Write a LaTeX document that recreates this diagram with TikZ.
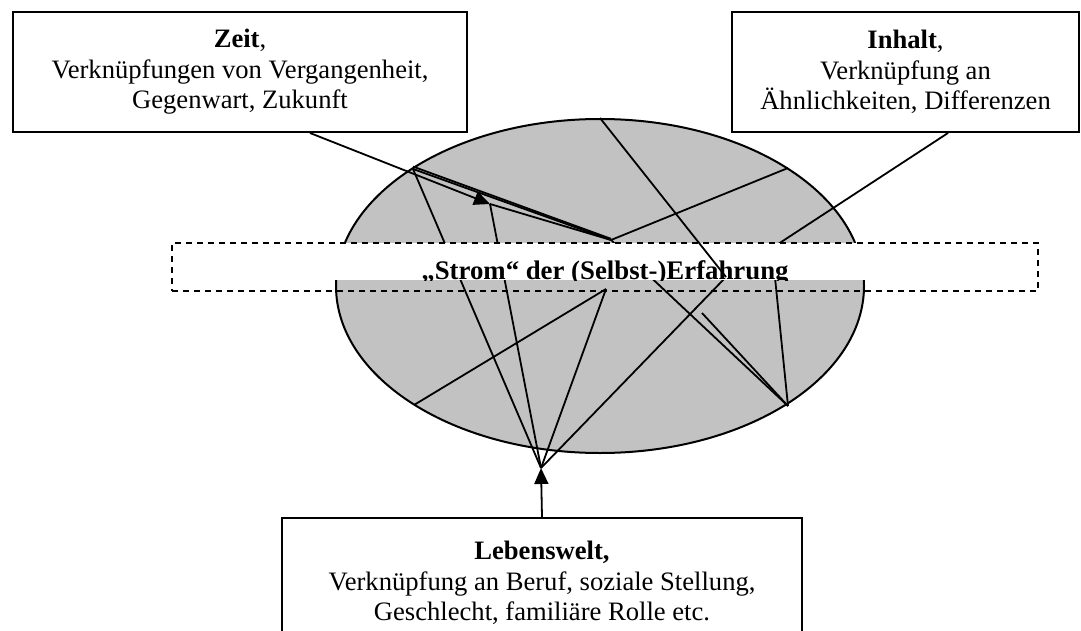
\documentclass[tikz,border=0pt]{standalone}
\usepackage{fontspec}
\setmainfont{Liberation Serif}
\usetikzlibrary{shapes,arrows.meta}
\definecolor{feldgrau}{RGB}{194,194,194}
\tikzstyle{kasten}=[rectangle,draw,line width=1pt,fill=white,text=black,
align=center,font=\fontsize{13.3}{15.2}\selectfont,inner sep=0pt]
\tikzstyle{linie}=[line width=0.9pt]
\tikzstyle{pfeil}=[line width=0.9pt,-{Triangle[length=8pt,width=7pt]}]

\begin{document}
\begin{tikzpicture}[x=0.5pt,y=-0.5pt]
  \path[use as bounding box,clip] (0,0) rectangle (1081,631);
  \node[ellipse,draw,line width=1pt,fill=feldgrau,minimum width=264pt,
        minimum height=167pt,inner sep=0pt] (feld) at (600,286) {};
  \node[kasten,minimum width=227pt,minimum height=60pt] (zeit) at (240,72)
        {\textbf{Zeit},\\ Verknüpfungen von Vergangenheit,\\ Gegenwart, Zukunft};
  \node[kasten,minimum width=173.5pt,minimum height=60pt] (inhalt) at (905.5,72)
        {\textbf{Inhalt},\\ Verknüpfung an\\ Ähnlichkeiten, Differenzen};
  \node[kasten,minimum width=260pt,minimum height=65pt,anchor=north] (leben) at (542,517)
        {\textbf{Lebenswelt,}\\ Verknüpfung an Beruf, soziale Stellung,\\ Geschlecht, familiäre Rolle etc.};

  % Knoten im Feld
  \coordinate (F) at (541,468);
  \coordinate (B) at (490,204);
  \coordinate (P1) at (413,169);
  \coordinate (P2) at (611,240);
  \coordinate (P3) at (788,168);
  \coordinate (S) at (788,406);
  \coordinate (K) at (702,313);
  \coordinate (L) at (414,405);
  \coordinate (V) at (606,289);
  \coordinate (Q) at (726,277);
  \coordinate (U) at (772,248);

  \draw[linie] (P1) -- (P2);
  \draw[linie] ([yshift=1.2pt]P1) -- ([yshift=0.6pt]P2);
  \draw[linie] (B) -- (P2);
  \draw[linie] (P1) -- (F);
  \draw[linie] (B) -- (F);
  \draw[linie] (P2) -- (P3);
  \draw[linie] (P2) -- (S);
  \draw[linie] (K) -- (S);
  \draw[linie] (V) -- (L);
  \draw[linie] (V) -- (F);
  \draw[linie] (Q) -- (F);
  \draw[linie] ([xshift=21.25pt]inhalt.south) -- (U) -- (S);
  \draw[pfeil] ([xshift=35pt]zeit.south) -- (B);
  \draw[pfeil] (leben.north) -- (F);

  % Band
  \fill[white] (172,243) rectangle (1038,280);
  \node[rectangle,draw,dashed,dash pattern=on 3pt off 2.5pt,line width=1pt,
        minimum width=433pt,minimum height=24pt,inner sep=0pt] (strom) at (605,267) {};
  \begin{scope}
    \clip (172,243) rectangle (1038,280);
    \node[anchor=base,inner sep=0pt,font=\fontsize{13.4}{15}\selectfont\bfseries] (titel)
          at (605,279) {„Strom“ der (Selbst-)Erfahrung};
  \end{scope}
  \draw[linie] (feld.north) -- (Q);
\end{tikzpicture}
\end{document}
